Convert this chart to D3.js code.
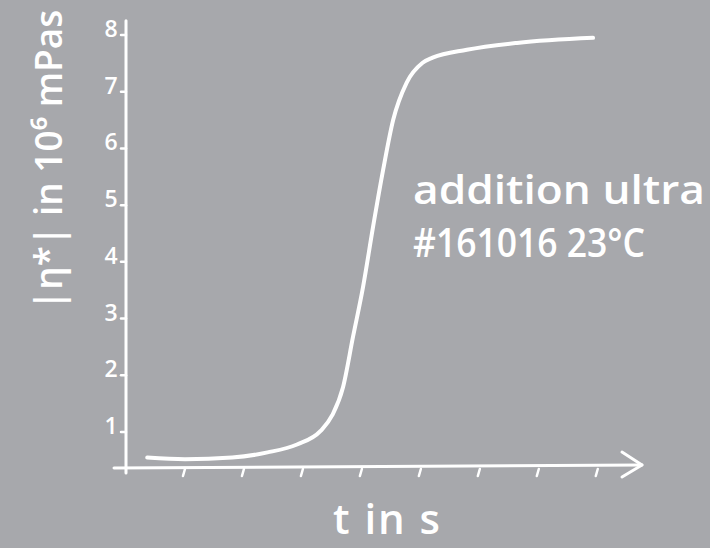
<!DOCTYPE html>
<html>
<head>
<meta charset="utf-8">
<script src="https://cdn.jsdelivr.net/npm/d3@7"></script>
<style>
	html, body { margin: 0; padding: 0; background: #a7a8ac; }
	svg text { font-family: "Open Sans", "Noto Sans", sans-serif; font-weight: 600; fill: #fff; }
</style>
</head>
<body>
<svg id="chart"></svg>
<script>
// time in units of x-axis ticks, viscosity in 10^6 mPas
const times = [0.36, 1.0, 1.8, 2.4, 2.9, 3.3, 3.5, 3.68, 3.85, 4.02, 4.19, 4.36, 4.53, 4.76, 5.03, 5.2, 5.78, 6.63, 7.92];
const viscosity = [0.55, 0.52, 0.55, 0.64, 0.78, 1.02, 1.3, 1.79, 2.68, 3.56, 4.62, 5.62, 6.5, 7.16, 7.51, 7.6, 7.74, 7.86, 7.95];
const yTicks = [1, 2, 3, 4, 5, 6, 7, 8];
const xTicks = [1, 2, 3, 4, 5, 6, 7, 8];
const sampleLines = ["addition ultra", "#161016 23°C"];
const sampleWidths = [292, 232];

const width = 710, height = 548;
const svg = d3.select("#chart")
		.attr("width", width)
		.attr("height", height);

const x = d3.scaleLinear().domain([0, 8.75]).range([126, 642]);
const y = d3.scaleLinear().domain([1, 8]).range([432, 35]);
const baseline = y(0.4);

// y axis
svg.append("line")
	.attr("x1", x(0)).attr("x2", x(0))
	.attr("y1", y(8.25)).attr("y2", baseline + 7)
	.attr("stroke", "#fff").attr("stroke-width", 3).attr("stroke-linecap", "round");

svg.selectAll(".ytick")
	.data(yTicks)
	.enter()
	.append("line")
	.attr("x1", x(0) - 5).attr("x2", x(0))
	.attr("y1", function(d) { return y(d) }).attr("y2", function(d) { return y(d) })
	.attr("stroke", "#fff").attr("stroke-width", 2.5).attr("stroke-linecap", "round");

svg.selectAll(".ylabel")
	.data(yTicks)
	.enter()
	.append("text")
	.attr("x", x(0) - 15)
	.attr("y", function(d) { return y(d) + 2 })
	.attr("text-anchor", "middle")
	.attr("font-size", 23)
	.text(function(d) { return d });

// x axis with arrow
svg.append("line")
	.attr("x1", x(0) - 12).attr("x2", x(8.75))
	.attr("y1", baseline + 2).attr("y2", baseline - 1)
	.attr("stroke", "#fff").attr("stroke-width", 3).attr("stroke-linecap", "round");

svg.append("path")
	.attr("d", "M" + (x(8.75) - 20) + "," + (baseline - 14) + "L" + x(8.75) + "," + (baseline - 1) + "L" + (x(8.75) - 20) + "," + (baseline + 11))
	.attr("fill", "none").attr("stroke", "#fff").attr("stroke-width", 3)
	.attr("stroke-linecap", "round").attr("stroke-linejoin", "round");

svg.selectAll(".xtick")
	.data(xTicks)
	.enter()
	.append("line")
	.attr("x1", function(d) { return x(d) - 2 }).attr("x2", function(d) { return x(d) })
	.attr("y1", baseline + 10).attr("y2", baseline + 3)
	.attr("stroke", "#fff").attr("stroke-width", 2.5).attr("stroke-linecap", "round");

// curve
const line = d3.line()
	.x(function(d, i) { return x(times[i]) })
	.y(function(d) { return y(d) })
	.curve(d3.curveMonotoneX);

svg.append("path")
	.datum(viscosity)
	.attr("d", line)
	.attr("fill", "none")
	.attr("stroke", "#fff")
	.attr("stroke-width", 4)
	.attr("stroke-linecap", "round");

// labels
svg.append("text")
	.attr("transform", "translate(62,160) rotate(-90)")
	.attr("text-anchor", "middle")
	.attr("font-size", 37)
	.text("|η*| in 10⁶ mPas");

svg.append("text")
	.attr("x", 333).attr("y", 534)
	.attr("font-size", 42)
	.attr("textLength", 107)
	.attr("lengthAdjust", "spacing")
	.text("t in s");

svg.selectAll(".sample")
	.data(sampleLines)
	.enter()
	.append("text")
	.attr("x", 413)
	.attr("y", function(d, i) { return 204 + i * 53 })
	.attr("font-size", 40)
	.attr("textLength", function(d, i) { return sampleWidths[i] })
	.attr("lengthAdjust", "spacingAndGlyphs")
	.text(function(d) { return d });
</script>
</body>
</html>
